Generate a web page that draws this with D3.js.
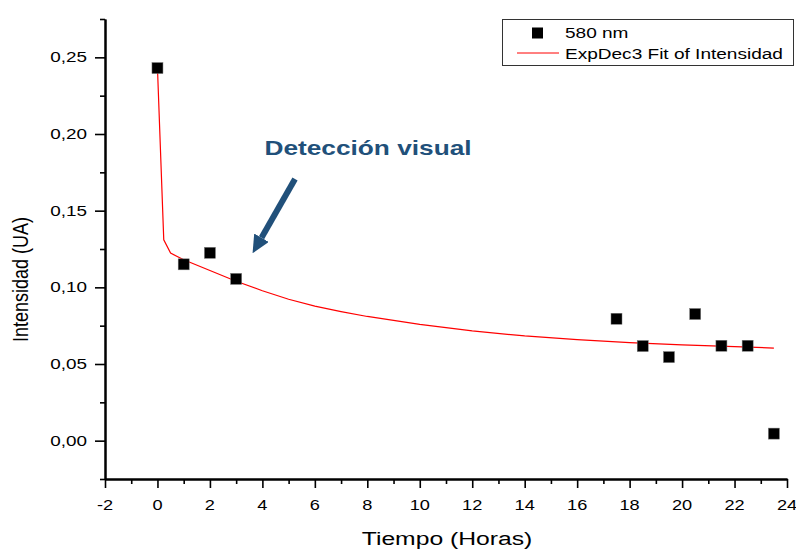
<!DOCTYPE html>
<html>
<head>
<meta charset="utf-8">
<script src="https://cdn.jsdelivr.net/npm/d3@7"></script>
<style>
  body { margin: 0; background: #fff; }
  text { font-family: "Liberation Sans", Arial, sans-serif; fill: #000; }
</style>
</head>
<body>
<svg width="796" height="549"></svg>
<script>
'use strict';

///////////////////////////// data ///////////////////////////
// measured points (580 nm)
var tiempo = [0, 1, 2, 3, 17.5, 18.5, 19.5, 20.5, 21.5, 22.5, 23.5];
var intensidad = [0.243, 0.115, 0.1225, 0.1055, 0.0795, 0.0617, 0.0545, 0.0826, 0.0619, 0.0619, 0.0046];

// ExpDec3 fit curve
var fitX = [0, 0.24, 0.5, 1, 2, 3, 4, 5, 6, 7, 8, 10, 12, 14, 16, 18, 20, 22, 23.5];
var fitY = [0.243, 0.131, 0.1223, 0.118, 0.111, 0.104, 0.0978, 0.0922, 0.0877, 0.0842, 0.081, 0.0759, 0.0716, 0.0683, 0.0659, 0.064, 0.0625, 0.0613, 0.0604];

var xMajor = [-2, 0, 2, 4, 6, 8, 10, 12, 14, 16, 18, 20, 22, 24];
var xMinor = [-1, 1, 3, 5, 7, 9, 11, 13, 15, 17, 19, 21, 23];
var xTickLabels = ['-2', '0', '2', '4', '6', '8', '10', '12', '14', '16', '18', '20', '22', '24'];
var yMajor = [0, 0.05, 0.10, 0.15, 0.20, 0.25];
var yMinor = [-0.025, 0.025, 0.075, 0.125, 0.175, 0.225, 0.275];
var yTickLabels = ['0,00', '0,05', '0,10', '0,15', '0,20', '0,25'];

var legendLabels = ['580 nm', 'ExpDec3 Fit of Intensidad'];

///////////////////////////// set up ///////////////////////////
var STRETCH = 1.3; // the original picture is stretched sideways
var svg = d3.select('svg');
var plotLeft = 105, plotRight = 787, plotTop = 19, plotBottom = 479;

var x = d3.scaleLinear().domain([-2, 24]).range([plotLeft, plotRight]);
var y = d3.scaleLinear().domain([-0.025, 0.275]).range([plotBottom, plotTop]);

// text drawn inside a stretched group
function wideText(px, py, str, size, anchor, sx) {
    var g = svg.append('g')
        .attr('transform', 'translate(' + px + ',' + py + ') scale(' + (sx || STRETCH) + ',1)');
    return g.append('text')
        .attr('font-size', size)
        .attr('text-anchor', anchor)
        .text(str);
}

///////////////////////////// axes ///////////////////////////
svg.append('g')
    .attr('transform', 'translate(0,' + plotBottom + ')')
    .call(d3.axisBottom(x).tickValues(xMajor).tickSize(9).tickSizeOuter(0).tickFormat(''));
svg.append('g')
    .attr('transform', 'translate(0,' + plotBottom + ')')
    .call(d3.axisBottom(x).tickValues(xMinor).tickSize(5).tickSizeOuter(0).tickFormat(''));

svg.append('g')
    .attr('transform', 'translate(' + plotLeft + ',0)')
    .call(d3.axisLeft(y).tickValues(yMajor).tickSize(10).tickSizeOuter(0).tickFormat(''));
svg.append('g')
    .attr('transform', 'translate(' + plotLeft + ',0)')
    .call(d3.axisLeft(y).tickValues(yMinor).tickSize(5).tickSizeOuter(0).tickFormat(''));

svg.selectAll('.domain').attr('stroke', '#000').attr('stroke-width', 2);
svg.selectAll('.tick line').attr('stroke', '#000').attr('stroke-width', 1.6);

xMajor.forEach(function(v, i) {
    wideText(x(v), 509.5, xTickLabels[i], 14, 'middle');
});
yMajor.forEach(function(v, i) {
    wideText(87, y(v) + 5, yTickLabels[i], 14, 'end', 1.35);
});

// axis titles
wideText(447, 545, 'Tiempo (Horas)', 19, 'middle');
svg.append('g')
    .attr('transform', 'translate(28,279.5) scale(1.2,1) rotate(-90)')
    .append('text')
    .attr('font-size', 18)
    .attr('text-anchor', 'middle')
    .text('Intensidad (UA)');

///////////////////////////// fit + points ///////////////////////////
var line = d3.line()
    .x(function(d) { return x(d[0]); })
    .y(function(d) { return y(d[1]); });

svg.append('path')
    .datum(d3.zip(fitX, fitY))
    .attr('fill', 'none')
    .attr('stroke', '#ff0000')
    .attr('stroke-width', 1.2)
    .attr('d', line);

var SQ = 11;
svg.selectAll('.pt')
    .data(d3.zip(tiempo, intensidad))
    .enter()
    .append('rect')
    .attr('class', 'pt')
    .attr('x', function(d) { return x(d[0]) - SQ / 2; })
    .attr('y', function(d) { return y(d[1]) - SQ / 2; })
    .attr('width', SQ)
    .attr('height', SQ)
    .attr('fill', '#000')
    .attr('stroke', '#777')
    .attr('stroke-width', 0.5);

///////////////////////////// legend ///////////////////////////
svg.append('rect')
    .attr('x', 502.5).attr('y', 19.5)
    .attr('width', 291).attr('height', 46)
    .attr('fill', 'none')
    .attr('stroke', '#333')
    .attr('stroke-width', 1);
svg.append('rect')
    .attr('x', 532).attr('y', 27.5)
    .attr('width', 11).attr('height', 11)
    .attr('fill', '#000');
svg.append('line')
    .attr('x1', 517).attr('x2', 559)
    .attr('y1', 53).attr('y2', 53)
    .attr('stroke', '#ff0000')
    .attr('stroke-width', 1);
wideText(565, 38, legendLabels[0], 14, 'start', 1.36);
wideText(565, 59, legendLabels[1], 14, 'start', 1.36);

///////////////////////////// annotation ///////////////////////////
var BLUE = '#21507a';
svg.append('defs').append('marker')
    .attr('id', 'head')
    .attr('viewBox', '0 0 10 10')
    .attr('refX', 0).attr('refY', 5)
    .attr('markerWidth', 3).attr('markerHeight', 2.8)
    .attr('markerUnits', 'strokeWidth')
    .attr('orient', 'auto')
    .attr('preserveAspectRatio', 'none')
    .append('path')
    .attr('d', 'M0,0 L10,5 L0,10 Z')
    .attr('fill', BLUE);
svg.append('line')
    .attr('x1', 295).attr('y1', 179)
    .attr('x2', 261.5).attr('y2', 237.7)
    .attr('stroke', BLUE)
    .attr('stroke-width', 6)
    .attr('marker-end', 'url(#head)');

wideText(368, 155, 'Detección visual', 21, 'middle', 1.25)
    .attr('font-weight', 'bold')
    .style('fill', BLUE);
</script>
</body>
</html>
